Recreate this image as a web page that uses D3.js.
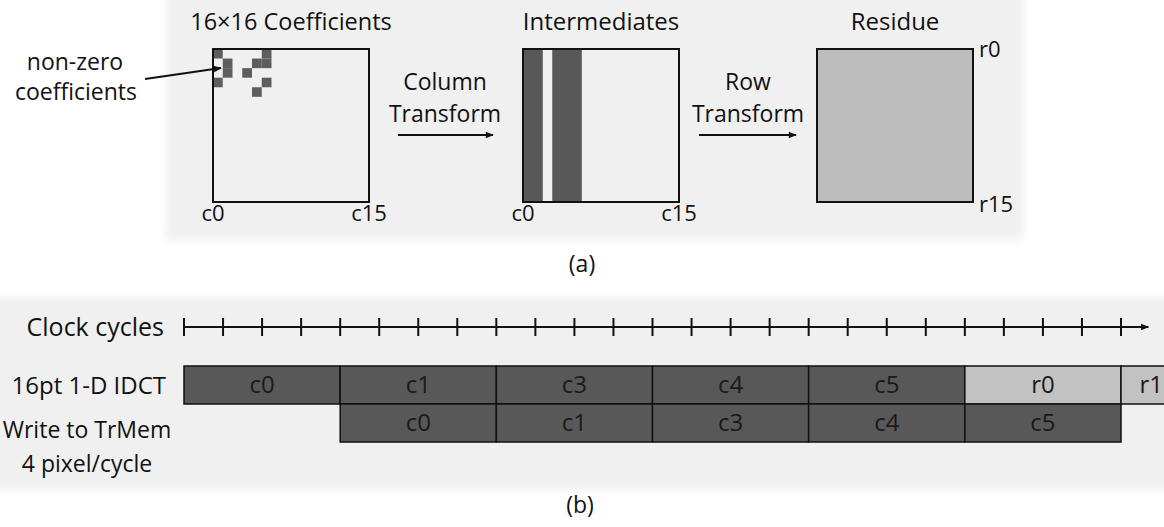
<!DOCTYPE html>
<html>
<head>
<meta charset="utf-8">
<script src="https://cdn.jsdelivr.net/npm/d3@7"></script>
<style>
  html, body { margin: 0; padding: 0; background: #fff; }
  svg { display: block; }
  text { font-family: "Open Sans", "Noto Sans", sans-serif; fill: #111; }
</style>
</head>
<body>
<svg id="fig" width="1164" height="527"></svg>
<script>
// ---- data ----
const matrixSize = 16;
// non-zero coefficient positions in the 16x16 block
const nzCols = [0, 1, 1, 0, 3, 4, 5, 5, 5, 4];
const nzRows = [0, 1, 2, 3, 2, 1, 1, 0, 3, 4];

// 1-D IDCT pipeline schedule (in clock cycles)
const idctLabels = ["c0", "c1", "c3", "c4", "c5", "r0", "r1"];
const idctStart  = [0, 4, 8, 12, 16, 20, 24];
const idctEnd    = [4, 8, 12, 16, 20, 24, 28];
const idctKind   = ["col", "col", "col", "col", "col", "row", "row"];

const writeLabels = ["c0", "c1", "c3", "c4", "c5"];
const writeStart  = [4, 8, 12, 16, 20];
const writeEnd    = [8, 12, 16, 20, 24];

const cycleCount = 24;
const rowLabels = ["Clock cycles", "16pt 1-D IDCT"];
const writeLabelLines = ["Write to TrMem", "4 pixel/cycle"];

// ---- drawing ----
const W = 1164;
const svg = d3.select("#fig");
const dark = "#585858", light = "#c2c2c2";

const defs = svg.append("defs");
defs.append("filter").attr("id", "soft").attr("x", "-5%").attr("y", "-10%").attr("width", "110%").attr("height", "120%")
  .append("feGaussianBlur").attr("stdDeviation", 4);
defs.append("marker").attr("id", "arrow").attr("viewBox", "0 0 10 10")
  .attr("refX", 9).attr("refY", 5).attr("markerWidth", 10).attr("markerHeight", 8)
  .attr("markerUnits", "userSpaceOnUse").attr("orient", "auto")
  .append("path").attr("d", "M0,1 L10,5 L0,9 Z").attr("fill", "#111");

// panel backdrops
svg.append("rect").attr("x", 166).attr("y", -10).attr("width", 858).attr("height", 250)
  .attr("fill", "#f0f0f0").attr("filter", "url(#soft)");
svg.append("rect").attr("x", -10).attr("y", 297).attr("width", 1184).attr("height", 193)
  .attr("fill", "#f0f0f0").attr("filter", "url(#soft)");

// ---- (a) matrices ----
const boxW = 156, boxH = 153, boxTop = 49;
const boxLefts = [213, 523, 817];
const activeCols = Array.from(new Set(nzCols)).sort(d3.ascending);

function matrix(left) {
  const x = d3.scaleLinear().domain([0, matrixSize]).range([left, left + boxW]);
  const y = d3.scaleLinear().domain([0, matrixSize]).range([boxTop, boxTop + boxH]);
  return { x, y, g: svg.append("g") };
}

// coefficients
const m1 = matrix(boxLefts[0]);
m1.g.selectAll("rect.nz").data(d3.range(nzCols.length)).join("rect")
  .attr("x", i => m1.x(nzCols[i])).attr("y", i => m1.y(nzRows[i]))
  .attr("width", m1.x(1) - m1.x(0)).attr("height", m1.y(1) - m1.y(0))
  .attr("fill", "#5e5e5e");

// intermediates: every column holding a non-zero coefficient becomes full
const m2 = matrix(boxLefts[1]);
m2.g.selectAll("rect.col").data(activeCols).join("rect")
  .attr("x", c => m2.x(c)).attr("y", m2.y(0))
  .attr("width", m2.x(1) - m2.x(0) + 0.3).attr("height", m2.y(matrixSize) - m2.y(0))
  .attr("fill", dark);

// residue: fully populated
const m3 = matrix(boxLefts[2]);
m3.g.append("rect").attr("x", m3.x(0)).attr("y", m3.y(0))
  .attr("width", m3.x(matrixSize) - m3.x(0)).attr("height", m3.y(matrixSize) - m3.y(0))
  .attr("fill", "#bdbdbd");

[m1, m2, m3].forEach(m => {
  m.g.append("rect").attr("x", m.x(0)).attr("y", m.y(0))
    .attr("width", m.x(matrixSize) - m.x(0)).attr("height", m.y(matrixSize) - m.y(0))
    .attr("fill", "none").attr("stroke", "#111").attr("stroke-width", 2);
});

const titles = ["16×16 Coefficients", "Intermediates", "Residue"];
const titleSize = [23.5, 24, 24];
titles.forEach((t, i) => {
  svg.append("text").attr("x", boxLefts[i] + boxW / 2).attr("y", 30)
    .attr("text-anchor", "middle").attr("font-size", titleSize[i]).text(t);
});

// column labels under the first two boxes, row labels beside the residue
[m1, m2].forEach(m => {
  svg.append("text").attr("x", m.x(0)).attr("y", 221).attr("text-anchor", "middle")
    .attr("font-size", 22).text("c0");
  svg.append("text").attr("x", m.x(matrixSize)).attr("y", 221).attr("text-anchor", "middle")
    .attr("font-size", 22).text("c" + (matrixSize - 1));
});
svg.append("text").attr("x", m3.x(matrixSize) + 6).attr("y", m3.y(0) + 8)
  .attr("font-size", 22).text("r0");
svg.append("text").attr("x", m3.x(matrixSize) + 6).attr("y", m3.y(matrixSize) + 10)
  .attr("font-size", 22).text("r" + (matrixSize - 1));

// callout
svg.append("text").attr("x", 75).attr("y", 70).attr("text-anchor", "middle").attr("font-size", 23).text("non-zero");
svg.append("text").attr("x", 76).attr("y", 100).attr("text-anchor", "middle").attr("font-size", 23).text("coefficients");
svg.append("line").attr("x1", 145).attr("y1", 79).attr("x2", 221).attr("y2", 68)
  .attr("stroke", "#111").attr("stroke-width", 2).attr("marker-end", "url(#arrow)");

// transform arrows
const stages = [
  { lines: ["Column", "Transform"], cx: 445, x1: 398, x2: 493 },
  { lines: ["Row", "Transform"], cx: 748, x1: 699, x2: 796 }
];
stages.forEach(s => {
  s.lines.forEach((l, j) => {
    svg.append("text").attr("x", s.cx).attr("y", 90 + j * 32).attr("text-anchor", "middle")
      .attr("font-size", 23).text(l);
  });
  svg.append("line").attr("x1", s.x1).attr("y1", 135).attr("x2", s.x2).attr("y2", 135)
    .attr("stroke", "#111").attr("stroke-width", 2).attr("marker-end", "url(#arrow)");
});

svg.append("text").attr("x", 582).attr("y", 272).attr("text-anchor", "middle").attr("font-size", 23).text("(a)");

// ---- (b) timing ----
const x = d3.scaleLinear().domain([0, cycleCount]).range([184, 1121]);
const axisY = 327;
const tg = svg.append("g");
tg.append("line").attr("x1", x(0)).attr("x2", x(cycleCount + 0.7)).attr("y1", axisY).attr("y2", axisY)
  .attr("stroke", "#111").attr("stroke-width", 2).attr("marker-end", "url(#arrow)");
tg.selectAll("line.tick").data(d3.range(0, cycleCount + 1)).join("line")
  .attr("x1", d => x(d)).attr("x2", d => x(d)).attr("y1", axisY - 9).attr("y2", axisY + 9)
  .attr("stroke", "#111").attr("stroke-width", 2);

const laneTop = [366, 404], laneH = 38;

function lane(labels, starts, ends, kinds, top) {
  const g = svg.append("g");
  const idx = d3.range(labels.length);
  g.selectAll("rect").data(idx).join("rect")
    .attr("x", i => x(starts[i])).attr("y", top)
    .attr("width", i => x(ends[i]) - x(starts[i])).attr("height", laneH)
    .attr("fill", i => (kinds && kinds[i] === "row") ? light : dark)
    .attr("stroke", "#111").attr("stroke-width", 1.5);
  // blocks running past the right edge get their label pinned to that edge
  const clipped = i => x(ends[i]) > W;
  g.selectAll("text").data(idx).join("text")
    .attr("x", i => clipped(i) ? W - 1 : (x(starts[i]) + x(ends[i])) / 2)
    .attr("y", top + laneH / 2 + 8)
    .attr("text-anchor", i => clipped(i) ? "end" : "middle")
    .attr("font-size", 24).style("fill", "#1a1a1a").text(i => labels[i]);
}
lane(idctLabels, idctStart, idctEnd, idctKind, laneTop[0]);
lane(writeLabels, writeStart, writeEnd, null, laneTop[1]);

svg.append("text").attr("x", 164).attr("y", 336).attr("text-anchor", "end").attr("font-size", 25).text(rowLabels[0]);
svg.append("text").attr("x", 166).attr("y", 394).attr("text-anchor", "end").attr("font-size", 24).text(rowLabels[1]);
writeLabelLines.forEach((l, j) => {
  svg.append("text").attr("x", 87).attr("y", 438 + j * 34).attr("text-anchor", "middle")
    .attr("font-size", 23).text(l);
});

svg.append("text").attr("x", 580).attr("y", 513).attr("text-anchor", "middle").attr("font-size", 23).text("(b)");
</script>
</body>
</html>
